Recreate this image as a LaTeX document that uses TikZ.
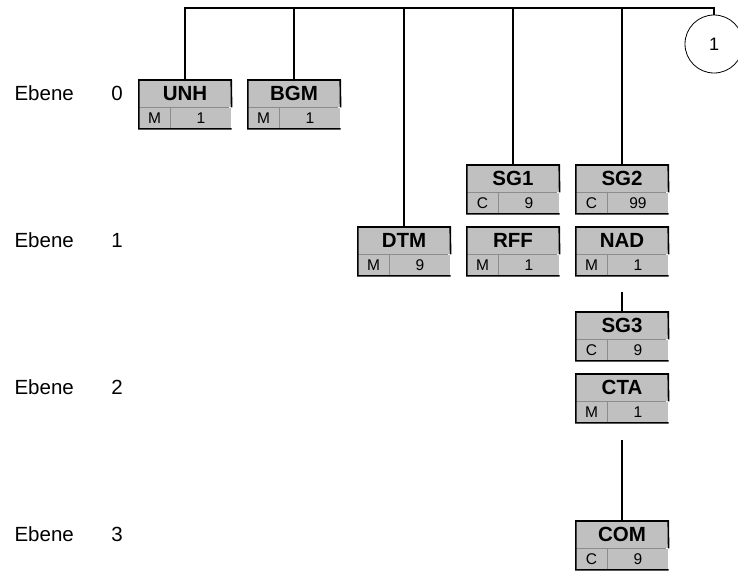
\documentclass[tikz,border=0pt]{standalone}
\usepackage{fontspec}
\setmainfont{Liberation Sans}
\usepackage{tikz}
\usetikzlibrary{positioning}
\usepackage{xcolor}
\definecolor{boxgrey}{HTML}{C0C0C0}
\definecolor{rulegrey}{HTML}{8C8C8C}
\tikzset{
	seghead/.style={%
		fill=boxgrey,
		minimum width=92pt,
		minimum height=27pt,
		inner sep=0pt,
		font=\bfseries\fontsize{20.5}{22}\selectfont
	},
	segcell/.style={%
		fill=boxgrey,
		minimum width=#1,
		minimum height=21pt,
		inner sep=0pt,
		font=\fontsize{15.5}{17}\selectfont
	},
	segcell/.default=31pt,
	segframe/.style={line width=1.6pt, line join=miter},
	branch/.style={line width=2.6pt},
	level/.style={font=\fontsize{20.5}{22}\selectfont},
	pagecircle/.style={circle, draw, line width=0.8pt, minimum size=58pt, inner sep=0pt, font=\fontsize{18}{20}\selectfont}
}
% one segment box: name, x, top y, tag, status, repetition
\newcommand{\segbox}[6]{%
	\node[seghead, anchor=north] (#1) at (#2,#3) {#4};
	\node[segcell, anchor=north west] (#1-st) at (#1.south west) {#5};
	\node[segcell=61pt, anchor=north west] (#1-rep) at (#1-st.north east) {#6};
	\coordinate (#1-bot) at (#1-st.south -| #1.south);
	\draw[rulegrey, line width=1pt] (#1-st.north west) -- ([xshift=-3pt]#1-rep.north east);
	\draw[rulegrey, line width=1pt] (#1-st.north east) -- (#1-st.south east);
	\draw[white, line width=1pt] ([xshift=-0.5pt]#1-rep.north east) -- ([xshift=-0.5pt]#1-rep.south east);
	\draw[segframe] (#1-rep.north east) -- (#1.north east) -- (#1.north west) -- (#1-st.south west) -- (#1-rep.south east);
}
\begin{document}
\begin{tikzpicture}[x=1pt, y=-1pt]
		\useasboundingbox (0,0) rectangle (738,570);
		
		% level labels
		\node[level, anchor=base west] (ebene0) at (11,100) {Ebene};
		\node[level, anchor=base] (nr0) at (117,100) {0};
		\node[level, anchor=base west] (ebene1) at (11,247) {Ebene};
		\node[level, anchor=base] (nr1) at (117,247) {1};
		\node[level, anchor=base west] (ebene2) at (11,394) {Ebene};
		\node[level, anchor=base] (nr2) at (117,394) {2};
		\node[level, anchor=base west] (ebene3) at (11,541) {Ebene};
		\node[level, anchor=base] (nr3) at (117,541) {3};
		
		% segments
		\segbox{unh}{185}{80}{UNH}{M}{1}
		\segbox{bgm}{294}{80}{BGM}{M}{1}
		\segbox{sg1}{513}{165}{SG1}{C}{9}
		\segbox{sg2}{622}{165}{SG2}{C}{99}
		\segbox{dtm}{404}{227}{DTM}{M}{9}
		\segbox{rff}{513}{227}{RFF}{M}{1}
		\segbox{nad}{622}{227}{NAD}{M}{1}
		\segbox{sg3}{622}{312}{SG3}{C}{9}
		\segbox{cta}{622}{374}{CTA}{M}{1}
		\segbox{com}{622}{521}{COM}{C}{9}
		
		\node[pagecircle] (page) at (714,44) {1};
		
		%branches to the top line
		\coordinate (bus) at (0,8);
		\draw[branch] (unh.north) -- (unh.north |- bus) -| (page.north);
		\draw[branch] (bgm.north) -- (bgm.north |- bus);
		\draw[branch] (dtm.north) -- (dtm.north |- bus);
		\draw[branch] (sg1.north) -- (sg1.north |- bus);
		\draw[branch] (sg2.north) -- (sg2.north |- bus);
		
		\draw[branch, shorten <=16pt] (nad-bot) -- (sg3.north);
		\draw[branch, shorten <=17pt] (cta-bot) -- (com.north);
		
		\end{tikzpicture}
\end{document}
